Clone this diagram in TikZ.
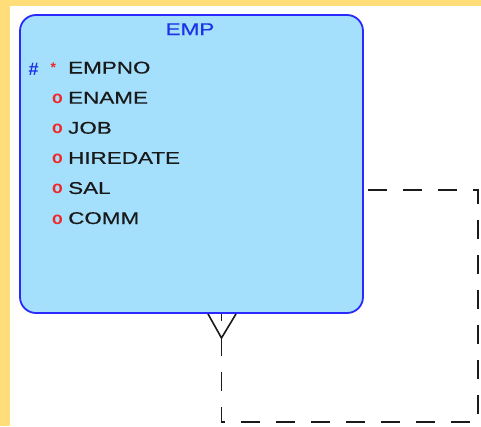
\documentclass[tikz,border=0pt]{standalone}
\usepackage{fontspec}
\usetikzlibrary{calc}
\newfontfamily\erfont[FakeStretch=1.32, FakeBold=0.4]{Liberation Sans}
\newfontfamily\erbold{Liberation Sans Bold}
\definecolor{paper}{HTML}{FFDE7A}
\definecolor{entfill}{HTML}{A4DFFC}
\definecolor{entline}{HTML}{2A2AFF}
\definecolor{titleblue}{HTML}{1E32E6}
\definecolor{mkred}{HTML}{F02828}
\definecolor{linkink}{HTML}{1A1A1A}
\tikzset{
  entity/.style={draw=entline, line width=1.8pt, fill=entfill, rounded corners=16pt,
    rectangle, inner sep=0pt},
  attr/.style={anchor=base west, inner sep=0pt, font=\erfont\fontsize{17}{20}\selectfont, text=black!90},
  mkr/.style={anchor=base west, inner sep=0pt, font=\erbold\fontsize{17.5}{20}\selectfont},
  etitle/.style={anchor=base, inner sep=0pt, font=\erfont\fontsize{17}{20}\selectfont, text=titleblue},
  link/.style={draw=linkink, line width=1.6pt, dash pattern=on 19pt off 16pt, dash phase=12pt},
  foot/.style={draw=linkink, line width=1.6pt}
}
\begin{document}
\begin{tikzpicture}[x=1pt,y=-1pt]
  % page: yellow frame with a white drawing area
  \fill[paper] (0,0) rectangle (481,426);
  \fill[white] (10,6) rectangle (481,426);
  \useasboundingbox (0,0) rectangle (481,426);

  % the EMP entity
  \node[entity, minimum width=343pt, minimum height=298pt] (emp) at (191.5,164) {};
  \node[etitle] (title) at (190,35) {EMP};

  \node[mkr, text=titleblue, font=\erbold\fontsize{18}{20}\selectfont] (pk) at (28.5,75) {\#};
  \node[mkr, text=mkred, font=\erbold\fontsize{14}{20}\selectfont] (req) at (50.3,72) {*};
  \node[attr] (a1) at (68,73.5) {EMPNO};

  \node[mkr, text=mkred] (o2) at (52,103.6) {o};
  \node[attr] (a2) at (68,103.6) {ENAME};
  \node[mkr, text=mkred] (o3) at (52,133.7) {o};
  \node[attr] (a3) at (68,133.7) {JOB};
  \node[mkr, text=mkred] (o4) at (52,163.8) {o};
  \node[attr] (a4) at (68,163.8) {HIREDATE};
  \node[mkr, text=mkred] (o5) at (52,193.9) {o};
  \node[attr] (a5) at (68,193.9) {SAL};
  \node[mkr, text=mkred] (o6) at (52,224) {o};
  \node[attr] (a6) at (68,224) {COMM};

  % self relationship (MGR), dashed = optional
  \coordinate (r1) at (478,190);
  \coordinate (r2) at (478,422);
  \coordinate (r3) at (221.5,422);
  \coordinate (toe) at (221.5,338);
  \draw[link] (emp.south -| r3) -- (r3) -- (r2) -- (r1) -- (r1 -| emp.east);

  % crow's foot (many) at the bottom of the entity
  \draw[foot] ($(emp.south -| toe)+(-13.5,0)$) -- (toe) -- ($(emp.south -| toe)+(14.5,0)$);
\end{tikzpicture}
\end{document}
